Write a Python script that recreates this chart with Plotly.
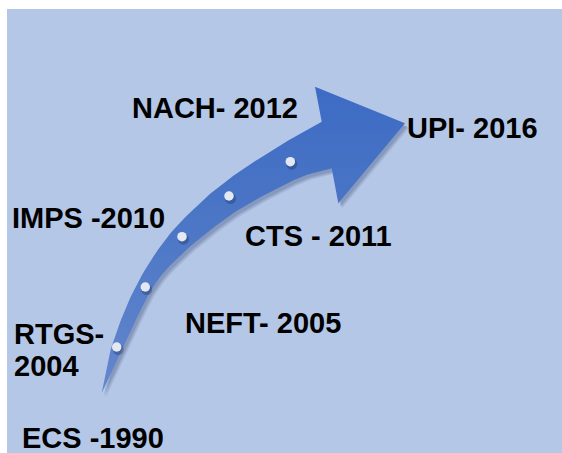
import plotly.graph_objects as go

# ---------------- data ----------------
systems = ["ECS", "RTGS", "NEFT", "IMPS", "CTS", "NACH", "UPI"]
years = [1990, 2004, 2005, 2010, 2011, 2012, 2016]
label_text = ["ECS -1990", "RTGS-<br>2004", "NEFT- 2005", "IMPS -2010",
              "CTS - 2011", "NACH- 2012", "UPI- 2016"]

# ---------------- layout geometry (pixel space) ----------------
W, H = 562, 453
label_pos = [(22, 437.5), (14, 334), (185, 323.3), (12, 218),
             (245, 235.5), (132, 108), (407, 128.3)]
line_gap = 32

upper_edge = [(101.7, 393), (111.5, 347), (134, 290), (165, 240), (200, 203),
              (229, 179), (260, 158), (290, 139.5), (321.7, 121.7)]
head = [(315, 86.7), (405, 123.3), (338.3, 203.3)]
lower_edge = [(331.7, 168.3), (300, 177.5), (250, 203), (217, 225),
              (183, 253), (153, 287), (123.3, 347), (101.7, 393)]
dots = [(116.7, 347), (145.3, 287), (182, 236.7), (229, 196), (290.3, 161.7)]
BOX = "#B4C7E7"


def smooth(pts, n=14):
    out = []
    m = len(pts)
    for i in range(m - 1):
        p0 = pts[i - 1] if i > 0 else pts[i]
        p1 = pts[i]
        p2 = pts[i + 1]
        p3 = pts[i + 2] if i + 2 < m else pts[i + 1]
        c1 = (p1[0] + (p2[0] - p0[0]) / 6, p1[1] + (p2[1] - p0[1]) / 6)
        c2 = (p2[0] - (p3[0] - p1[0]) / 6, p2[1] - (p3[1] - p1[1]) / 6)
        for k in range(n):
            t = k / n
            a = (1 - t) ** 3
            b = 3 * t * (1 - t) ** 2
            c = 3 * t * t * (1 - t)
            d = t ** 3
            out.append((a * p1[0] + b * c1[0] + c * c2[0] + d * p2[0],
                        a * p1[1] + b * c1[1] + c * c2[1] + d * p2[1]))
    out.append(pts[-1])
    return out


poly = smooth(upper_edge) + head + smooth(lower_edge)
px = [p[0] for p in poly]
py = [p[1] for p in poly]

fig = go.Figure()

# shadow of the arrow
for dx, dy, a in [(4, 5, 0.09), (3, 4, 0.11), (2, 3, 0.13)]:
    fig.add_trace(go.Scatter(x=[v + dx for v in px], y=[v + dy for v in py],
                             mode="lines", fill="toself", line=dict(width=0),
                             fillcolor=f"rgba(30,45,90,{a})", hoverinfo="skip",
                             showlegend=False))

# arrow body
fig.add_trace(go.Scatter(x=px, y=py, mode="lines", fill="toself",
                         line=dict(width=0),
                         fillgradient=dict(type="vertical",
                                           colorscale=[[0, "#6486CD"], [0.5, "#4E78C6"], [1, "#3D6BC4"]]),
                         hoverinfo="skip", showlegend=False))

# dot shadows and dots
fig.add_trace(go.Scatter(x=[d[0] + 1.5 for d in dots], y=[d[1] + 2.5 for d in dots],
                         mode="markers",
                         marker=dict(size=11, color="rgba(30,45,90,0.35)", line=dict(width=0)),
                         hoverinfo="skip", showlegend=False))
fig.add_trace(go.Scatter(x=[d[0] for d in dots], y=[d[1] for d in dots],
                         mode="markers",
                         marker=dict(size=9.5, color="#E4E8F2", line=dict(width=0)),
                         hoverinfo="skip", showlegend=False))

# labels
for txt, (lx, ly) in zip(label_text, label_pos):
    for j, part in enumerate(txt.split("<br>")):
        fig.add_annotation(x=lx, y=ly + j * line_gap, text=part, showarrow=False,
                           xanchor="left", yanchor="middle", xref="x", yref="y",
                           borderpad=0, borderwidth=0,
                           font=dict(family="Arial, Liberation Sans, sans-serif",
                                     size=29, color="#000000", weight="bold"))

fig.update_layout(
    width=W, height=H, autosize=False,
    margin=dict(l=0, r=0, t=0, b=0, pad=0),
    paper_bgcolor=BOX, plot_bgcolor=BOX,
    xaxis=dict(range=[0, W], visible=False, fixedrange=True),
    yaxis=dict(range=[H, 0], visible=False, fixedrange=True),
    shapes=[
        dict(type="rect", xref="x", yref="y", x0=0, y0=0, x1=W, y1=9,
             fillcolor="#FFFFFF", line=dict(width=0), layer="below"),
        dict(type="rect", xref="x", yref="y", x0=0, y0=0, x1=7, y1=H,
             fillcolor="#FFFFFF", line=dict(width=0), layer="below"),
    ],
)

fig.write_html("out.html", config={"displayModeBar": False},
               post_script="document.documentElement.style.overflow='hidden';"
                           "document.body.style.margin='0';document.body.style.overflow='hidden';"
                           "document.body.style.background='" + BOX + "';"
                           "document.documentElement.style.background='" + BOX + "';")
